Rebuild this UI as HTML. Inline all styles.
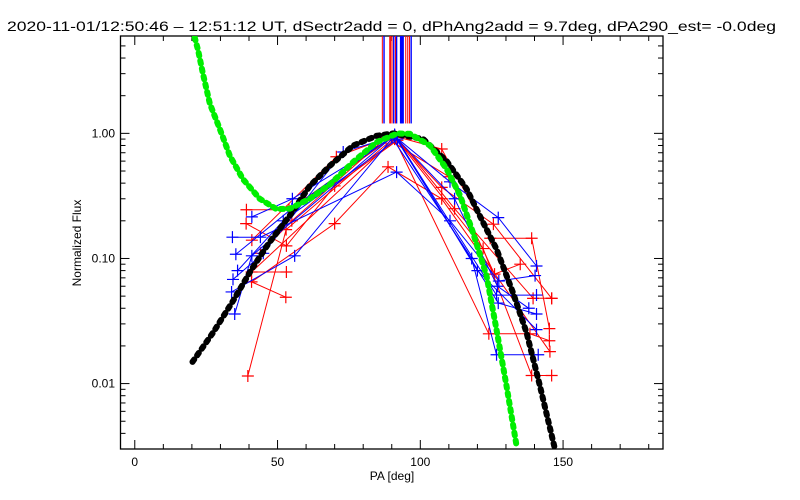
<!DOCTYPE html>
<html><head><meta charset="utf-8"><style>
html,body{margin:0;padding:0;background:#fff;}
svg{display:block;font-family:"Liberation Sans",sans-serif;}
</style></head><body>
<svg id="chart" width="800" height="500" viewBox="0 0 800 500" xmlns="http://www.w3.org/2000/svg">
<rect x="0" y="0" width="800" height="500" fill="#fff"/>
<text x="7" y="31" font-size="14" textLength="769" lengthAdjust="spacingAndGlyphs">2020-11-01/12:50:46 – 12:51:12 UT, dSectr2add = 0, dPhAng2add = 9.7deg, dPA290_est= -0.0deg</text>
<g id="axes"></g>
<g id="series"></g>
<text x="392" y="480" font-size="12" text-anchor="middle">PA [deg]</text>
<text x="81" y="243" font-size="12" text-anchor="middle" transform="rotate(-90 81 243)">Normalized Flux</text>
</svg>
<script>
const xTicks = [0, 50, 100, 150];
const xTickLabels = ["0", "50", "100", "150"];
const yTicks = [1, 0.1, 0.01];
const yTickLabels = ["1.00", "0.10", "0.01"];

const blackX = [20.2, 27.4, 34.4, 40.9, 46.7, 54.6, 61.3, 68.3, 76.5, 84.7, 90.5, 101, 109.2, 116.2, 122, 126.7, 132.5, 137.2, 141.9, 147];
const blackY = [0.0149, 0.0255, 0.0457, 0.082, 0.13, 0.226, 0.38, 0.55, 0.80, 0.956, 1.0, 0.90, 0.60, 0.36, 0.194, 0.119, 0.053, 0.0256, 0.0096, 0.0031];

const greenX = [21, 22.2, 23.9, 26.3, 29.8, 33.3, 37.9, 43.8, 49.6, 54.3, 61.3, 68.3, 76.5, 84.7, 92, 96.4, 103.4, 109.2, 113.9, 118.5, 123.2, 126.7, 130.2, 133.8];
const greenY = [5.85, 4.58, 2.98, 1.72, 1.08, 0.66, 0.43, 0.30, 0.248, 0.25, 0.30, 0.39, 0.59, 0.85, 1.0, 0.99, 0.80, 0.52, 0.32, 0.16, 0.073, 0.027, 0.0096, 0.0031];

const redSeriesX = [
  [39.1, 54, 91, 107.5, 124.5, 139, 145.2],
  [39.6, 53, 91, 107.5, 125.6, 146],
  [52.9, 40.9, 70, 88.7, 107.5, 145.4],
  [53.1, 40.9, 91, 124, 138.4, 145.2],
  [39, 53.1, 70, 92, 122, 139, 146],
  [41, 70.6, 91, 112, 139.5, 146],
  [44, 55, 88, 110, 126, 135]
];
const redSeriesY = [
  [0.245, 0.245, 0.95, 0.75, 0.145, 0.145, 0.0275],
  [0.0115, 0.17, 0.93, 0.37, 0.188, 0.048],
  [0.049, 0.065, 0.19, 0.54, 0.30, 0.018],
  [0.078, 0.078, 0.9, 0.025, 0.025, 0.022],
  [0.19, 0.126, 0.38, 0.88, 0.12, 0.0116, 0.0116],
  [0.14, 0.65, 0.97, 0.25, 0.048, 0.048],
  [0.11, 0.2, 0.92, 0.45, 0.075, 0.09]
];
const blueSeriesX = [
  [41, 55.2, 91, 110.4, 127.3, 140.7],
  [34.2, 44, 91.7, 110.4, 127.5, 140.2],
  [35, 41, 90, 118, 126.7, 141.3],
  [33.9, 56, 91, 126.7, 140.7],
  [34.4, 45, 73, 91, 127.3, 140.7],
  [35.4, 55, 91, 120, 140.7],
  [36, 52, 92, 112, 127, 138]
];
const blueSeriesY = [
  [0.215, 0.30, 0.95, 0.41, 0.212, 0.087],
  [0.148, 0.148, 0.49, 0.20, 0.066, 0.073],
  [0.036, 0.105, 0.93, 0.1, 0.017, 0.017],
  [0.054, 0.105, 0.96, 0.051, 0.051],
  [0.068, 0.11, 0.71, 0.95, 0.044, 0.036],
  [0.108, 0.25, 0.98, 0.08, 0.027],
  [0.08, 0.2, 0.9, 0.3, 0.06, 0.04]
];
const peakRedX = [86.7, 89.3, 89.6, 90.1, 91.3, 94.9, 95.6, 96.2];
const peakBlueX = [87.3, 90.7, 91.7, 93.1, 93.4, 93.6, 94, 96.8];
const peakLineBottom = 1.2;

const L = 120.5, R = 663, T = 36, B = 449;
const xMin = -5, xMax = 185, yMin = 0.003, yMax = 6;
function sx(v){ return L + (v - xMin) / (xMax - xMin) * (R - L); }
function sy(v){ return B - (Math.log10(v) - Math.log10(yMin)) / (Math.log10(yMax) - Math.log10(yMin)) * (B - T); }

const NS = "http://www.w3.org/2000/svg";
function mk(tag, attrs, parent){
  const e = document.createElementNS(NS, tag);
  for (const k in attrs) e.setAttribute(k, attrs[k]);
  parent.appendChild(e);
  return e;
}
const axes = document.getElementById('axes');
const ser = document.getElementById('series');

const frame = mk('rect', {x:L, y:T, width:R-L, height:B-T, fill:'none', stroke:'#000', 'stroke-width':1.3}, axes);



for (let v = 0; v <= 180; v += 10) {
  const len = (v % 50 === 0) ? 9 : 5;
  const x = sx(v);
  const t1 = mk('line', {x1:x, x2:x, y1:B, y2:B-len, stroke:'#000'}, axes);
  
  
  const t2 = mk('line', {x1:x, x2:x, y1:T, y2:T+len, stroke:'#000'}, axes);
  
  
}
xTicks.forEach((v, i) => {
  const t = mk('text', {x:sx(v), y:466, 'font-size':12, 'text-anchor':'middle'}, axes);
  t.textContent = xTickLabels[i];
  
  
});
for (let d = -3; d <= 0; d++) {
  for (let m = 1; m <= 9; m++) {
    const v = m * Math.pow(10, d);
    if (v < yMin || v > yMax) continue;
    const len = (m === 1) ? 9 : 5;
    const y = sy(v);
    const t1 = mk('line', {x1:L, x2:L+len, y1:y, y2:y, stroke:'#000'}, axes);
    
    
    const t2 = mk('line', {x1:R, x2:R-len, y1:y, y2:y, stroke:'#000'}, axes);
    
    
  }
}
yTicks.forEach((v, i) => {
  const t = mk('text', {x:115, y:sy(v)+4, 'font-size':12, 'text-anchor':'end'}, axes);
  t.textContent = yTickLabels[i];
  
  
});

const clip = mk('clipPath', {id:'pc'}, ser);
mk('rect', {x:L, y:T, width:R-L, height:B-T}, clip);
const g = mk('g', {'clip-path':'url(#pc)'}, ser);

function pts(xs, ys){ return xs.map((x, i) => sx(x).toFixed(1) + ',' + sy(ys[i]).toFixed(1)).join(' '); }

peakRedX.forEach(v => {
  const l = mk('line', {x1:sx(v), x2:sx(v), y1:T, y2:sy(peakLineBottom), stroke:'#f00', 'stroke-width':1}, g);
  
  
});
peakBlueX.forEach(v => {
  const l = mk('line', {x1:sx(v), x2:sx(v), y1:T, y2:sy(peakLineBottom), stroke:'#00f', 'stroke-width':1.4}, g);
  
  
});

function drawSeries(xs, ys, color, name){
  const p = mk('polyline', {points:pts(xs, ys), fill:'none', stroke:color, 'stroke-width':1}, g);
  
  
  xs.forEach((x, i) => {
    const cx = sx(x), cy = sy(ys[i]);
    const m = mk('path', {d:`M${cx-6},${cy}H${cx+6}M${cx},${cy-6}V${cy+6}`, stroke:color, 'stroke-width':1.2}, g);
    
    
  });
}
redSeriesX.forEach((xs, i) => drawSeries(xs, redSeriesY[i], '#f00', 'red-series-' + (i+1)));
blueSeriesX.forEach((xs, i) => drawSeries(xs, blueSeriesY[i], '#00f', 'blue-series-' + (i+1)));

const bk = mk('polyline', {points:pts(blackX, blackY), fill:'none', stroke:'#000', 'stroke-width':6, 'stroke-dasharray':'3 5', 'stroke-linecap':'round'}, g);


const gr = mk('polyline', {points:pts(greenX, greenY), fill:'none', stroke:'#0e0', 'stroke-width':6, 'stroke-dasharray':'3 5', 'stroke-linecap':'round'}, g);


</script>
</body></html>
